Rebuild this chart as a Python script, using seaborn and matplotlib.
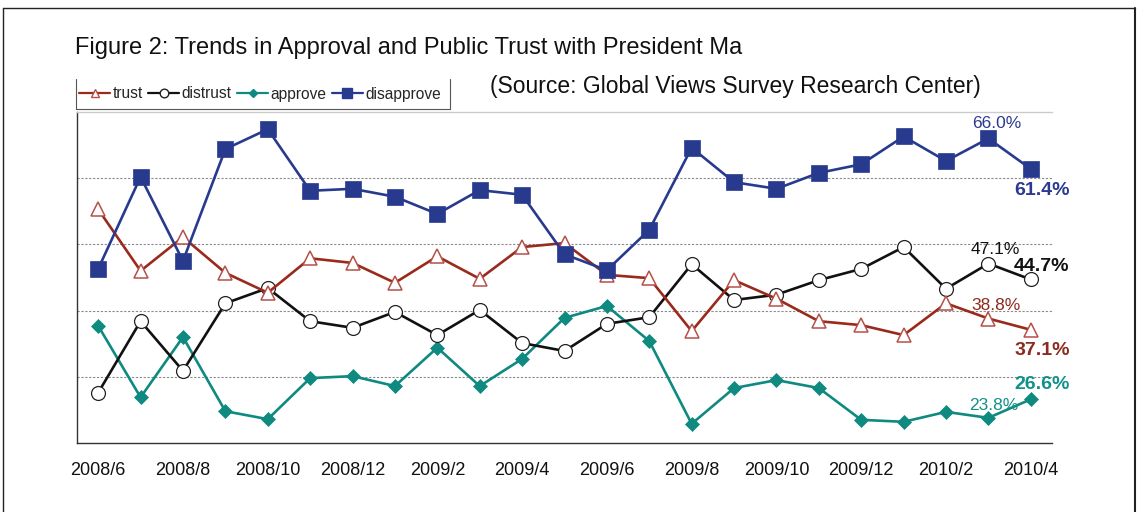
import matplotlib
matplotlib.use("Agg")
import matplotlib.pyplot as plt
from matplotlib.lines import Line2D
import seaborn as sns
import pandas as pd
import numpy as np

months = ["2008/6", "2008/7", "2008/8", "2008/9", "2008/10", "2008/11", "2008/12",
          "2009/1", "2009/2", "2009/3", "2009/4", "2009/5", "2009/6", "2009/7",
          "2009/8", "2009/9", "2009/10", "2009/11", "2009/12", "2010/1", "2010/2",
          "2010/3", "2010/4"]
trust = [55.3, 46.0, 51.1, 45.7, 42.7, 47.9, 47.2, 44.2, 48.2, 44.8, 49.6, 50.2,
         45.4, 44.9, 36.9, 44.6, 41.8, 38.4, 37.8, 36.3, 41.1, 38.8, 37.1]
distrust = [27.6, 38.4, 30.9, 41.1, 43.4, 38.4, 37.4, 39.8, 36.3, 40.1, 35.1, 33.9,
            38.0, 39.0, 47.0, 41.6, 42.4, 44.6, 46.3, 49.6, 43.3, 47.1, 44.7]
approve = [37.7, 26.9, 36.0, 24.8, 23.6, 29.8, 30.1, 28.6, 34.4, 28.6, 32.7, 38.9,
           40.7, 35.4, 22.9, 28.3, 29.5, 28.3, 23.5, 23.2, 24.7, 23.8, 26.6]
disapprove = [46.3, 60.2, 47.5, 64.4, 67.4, 58.1, 58.4, 57.2, 54.6, 58.2, 57.5, 48.5,
              46.1, 52.2, 64.6, 59.4, 58.4, 60.8, 62.1, 66.3, 62.6, 66.0, 61.4]
tick_labels = months[::2]

sns.set_theme(style="white")
plt.rcParams['font.family'] = ['Liberation Sans', 'DejaVu Sans']

fig = plt.figure(figsize=(11.37, 5.12), dpi=100)
ax = fig.add_axes([77/1137, 69/512, (1052-77)/1137, (443-112)/512])

x = np.arange(len(months))
df = pd.DataFrame({"x": x, "trust": trust, "distrust": distrust,
                   "approve": approve, "disapprove": disapprove})

styles = {
    "trust": dict(color="#9A2A1C", marker="^", markersize=10, markerfacecolor="white",
                  markeredgecolor="#B5504A", markeredgewidth=1.1),
    "distrust": dict(color="#111111", marker="o", markersize=10, markerfacecolor="white",
                     markeredgecolor="#222222", markeredgewidth=0.9),
    "approve": dict(color="#0E8A80", marker="D", markersize=7, markerfacecolor="#0E8A80",
                    markeredgecolor="#0E8A80", markeredgewidth=0.5),
    "disapprove": dict(color="#283A8E", marker="s", markersize=11, markerfacecolor="#283A8E",
                       markeredgecolor="#283A8E", markeredgewidth=0.5),
}
zorders = {"approve": 3, "distrust": 4, "trust": 5, "disapprove": 6}
for name in ["approve", "distrust", "trust", "disapprove"]:
    st = styles[name]
    sns.lineplot(data=df, x="x", y=name, ax=ax, color=st["color"], linewidth=1.9,
                 marker=st["marker"], markersize=st["markersize"],
                 markerfacecolor=st["markerfacecolor"], markeredgecolor=st["markeredgecolor"],
                 markeredgewidth=st["markeredgewidth"], zorder=zorders[name], label=name,
                 legend=False)

ax.set_xlim(-0.5, len(months) - 0.5)
ax.set_ylim(20, 70)
ax.set_xlabel("")
ax.set_ylabel("")
ax.set_yticks([30, 40, 50, 60])
ax.set_yticklabels([])
ax.tick_params(axis="y", length=0)
ax.yaxis.grid(True, linestyle=(0, (2, 1.5)), color="#8a8a8a", linewidth=0.8)
ax.set_xticks(x[::2])
ax.set_xticklabels(tick_labels, fontsize=13)
ax.tick_params(axis="x", length=0, pad=14, colors="#111111")
ax.set_xticks(np.arange(1.5, len(months) - 0.5, 2), minor=True)
ax.tick_params(axis="x", which="minor", length=6, direction="in", color="#333333", width=0.8)
for s in ["left", "bottom"]:
    ax.spines[s].set_color("#333333")
    ax.spines[s].set_linewidth(1.0)
ax.spines["right"].set_visible(False)
ax.spines["top"].set_color("#cccccc")
ax.spines["top"].set_linewidth(1.0)

# end labels
ax.text(21.2, 68.3, "66.0%", color="#2B3990", fontsize=12.5, ha="center", va="center")
ax.text(22.26, 58.2, "61.4%", color="#2B3990", fontsize=14, fontweight="bold", ha="center", va="center")
ax.text(21.17, 49.2, "47.1%", color="#111111", fontsize=12.5, ha="center", va="center")
ax.text(22.26, 46.6, "44.7%", color="#111111", fontsize=14, fontweight="bold", ha="center", va="center")
ax.text(21.17, 40.8, "38.8%", color="#8B2A1E", fontsize=12.5, ha="center", va="center")
ax.text(22.26, 34.0, "37.1%", color="#8B2A1E", fontsize=14, fontweight="bold", ha="center", va="center")
ax.text(22.26, 28.8, "26.6%", color="#12918A", fontsize=14, fontweight="bold", ha="center", va="center")
ax.text(21.13, 25.7, "23.8%", color="#12918A", fontsize=12.5, ha="center", va="center")
for t in ax.texts:
    t.set_clip_on(False)

# titles
fig.text(75/1137, 1 - 48/512, "Figure 2: Trends in Approval and Public Trust with President Ma",
         fontsize=17, color="#111111", ha="left", va="center")
fig.text(490/1137, 1 - 87/512, "(Source: Global Views Survey Research Center)",
         fontsize=16.5, color="#111111", ha="left", va="center")

# legend
handles = []
for name in ["trust", "distrust", "approve", "disapprove"]:
    st = styles[name]
    ms = st["markersize"] * 0.62
    handles.append(Line2D([], [], color=st["color"], linewidth=1.6, marker=st["marker"],
                          markersize=ms, markerfacecolor=st["markerfacecolor"],
                          markeredgecolor=st["markeredgecolor"], label=name))
fig.legend(handles=handles, loc="center left", bbox_to_anchor=(79/1137, 1 - 94/512),
           ncol=4, frameon=False, fontsize=11.2, handlelength=2.0, handletextpad=0.15,
           columnspacing=0.35, borderpad=0, borderaxespad=0)
lc = "#555555"
fig.add_artist(Line2D([76/1137, 76/1137], [1 - 79/512, 1 - 109/512], color=lc, linewidth=0.8))
fig.add_artist(Line2D([76/1137, 450/1137], [1 - 109/512, 1 - 109/512], color=lc, linewidth=0.8))
fig.add_artist(Line2D([450/1137, 450/1137], [1 - 79/512, 1 - 109/512], color=lc, linewidth=0.8))

# outer frame
fc = "#222222"
fig.add_artist(Line2D([3/1137, 3/1137], [0, 1 - 8/512], color=fc, linewidth=1.0))
fig.add_artist(Line2D([3/1137, 1135/1137], [1 - 8/512, 1 - 8/512], color=fc, linewidth=1.0))
fig.add_artist(Line2D([1135/1137, 1135/1137], [0, 1 - 8/512], color=fc, linewidth=1.5))

fig.savefig("out.png", dpi=100)
